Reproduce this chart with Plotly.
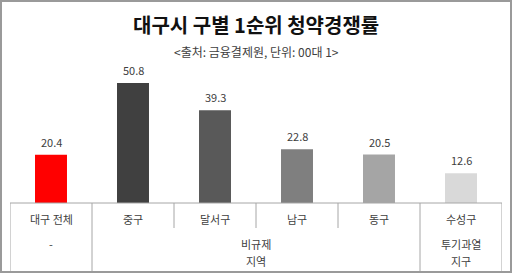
import plotly.graph_objects as go

categories = ["대구 전체", "중구", "달서구", "남구", "동구", "수성구"]
values = [20.4, 50.8, 39.3, 22.8, 20.5, 12.6]
bar_colors = ["#ff0000", "#404040", "#595959", "#7f7f7f", "#a5a5a5", "#d9d9d9"]
group_labels = [("-", 0, 0), ("비규제", 1, 4), ("투기과열", 5, 5)]
group_second = [("지역", 1, 4), ("지구", 5, 5)]
title_text = "대구시 구별 1순위 청약경쟁률"
subtitle_text = "&lt;출처: 금융결제원, 단위: 00대 1&gt;"

FONT = "Noto Sans CJK KR"
W, H = 512, 273
ML, MR, MT, MB = 10, 10, 60, 70
PH = H - MT - MB
PW = W - ML - MR
px_per_unit = 2.36

xs = list(range(len(categories)))

fig = go.Figure()
fig.add_trace(go.Bar(
    x=xs, y=values, marker=dict(color=bar_colors, line=dict(width=0)),
    width=0.39, hoverinfo="skip",
))

ann = []
for x, v in zip(xs, values):
    ann.append(dict(x=x, y=v, xref="x", yref="y", text=f"{v:.1f}", showarrow=False,
                    yanchor="bottom", yshift=3, font=dict(family=FONT, size=11, color="#404040")))
for x, c in zip(xs, categories):
    ann.append(dict(x=x, y=0, xref="x", yref="paper", text=c, showarrow=False,
                    yanchor="middle", yshift=-16, font=dict(family=FONT, size=11, color="#404040")))
for t, a, b in group_labels:
    ann.append(dict(x=(a + b) / 2, y=0, xref="x", yref="paper", text=t, showarrow=False,
                    yanchor="middle", yshift=-41, font=dict(family=FONT, size=11, color="#404040")))
for t, a, b in group_second:
    ann.append(dict(x=(a + b) / 2, y=0, xref="x", yref="paper", text=t, showarrow=False,
                    yanchor="middle", yshift=-58, font=dict(family=FONT, size=11, color="#404040")))
ann.append(dict(x=0.5, y=1, xref="paper", yref="paper", text=f"<b>{title_text}</b>", showarrow=False,
                yanchor="middle", yshift=MT - 24, font=dict(family=FONT, size=20, color="#111111")))
ann.append(dict(x=0.5, y=1, xref="paper", yref="paper", text=subtitle_text, showarrow=False,
                yanchor="middle", yshift=MT - 51, font=dict(family=FONT, size=12, color="#404040")))

line_col = "#a6a6a6"
shapes = []
full_bottom = -(H - 2 - MT - PH) / PH
short_bottom = -(228 - (MT + PH)) / PH
for bnd in [i - 0.5 for i in range(len(categories) + 1)]:
    full = bnd in (-0.5, 0.5, 4.5, 5.5)
    shapes.append(dict(type="line", xref="x", yref="paper", x0=bnd, x1=bnd, y0=0,
                       y1=full_bottom if full else short_bottom,
                       line=dict(color=line_col, width=1)))
shapes.append(dict(type="line", xref="x", yref="paper", x0=-0.5, x1=5.5, y0=0, y1=0,
                   line=dict(color=line_col, width=1)))
# outer frame
shapes.append(dict(type="rect", xref="paper", yref="paper",
                   x0=(1 - ML) / PW, x1=(W - 1 - ML) / PW,
                   y0=-(H - 1 - MT - PH) / PH, y1=(MT - 1) / PH + 1,
                   line=dict(color="#9a9a9a", width=2)))

fig.update_layout(
    width=W, height=H, margin=dict(l=ML, r=MR, t=MT, b=MB),
    paper_bgcolor="white", plot_bgcolor="white", showlegend=False,
    xaxis=dict(range=[-0.5, 5.5], showticklabels=False, showgrid=False, zeroline=False,
               showline=False, ticks=""),
    yaxis=dict(range=[0, PH / px_per_unit], visible=False),
    annotations=ann, shapes=shapes,
)
fig.write_html("out.html")
